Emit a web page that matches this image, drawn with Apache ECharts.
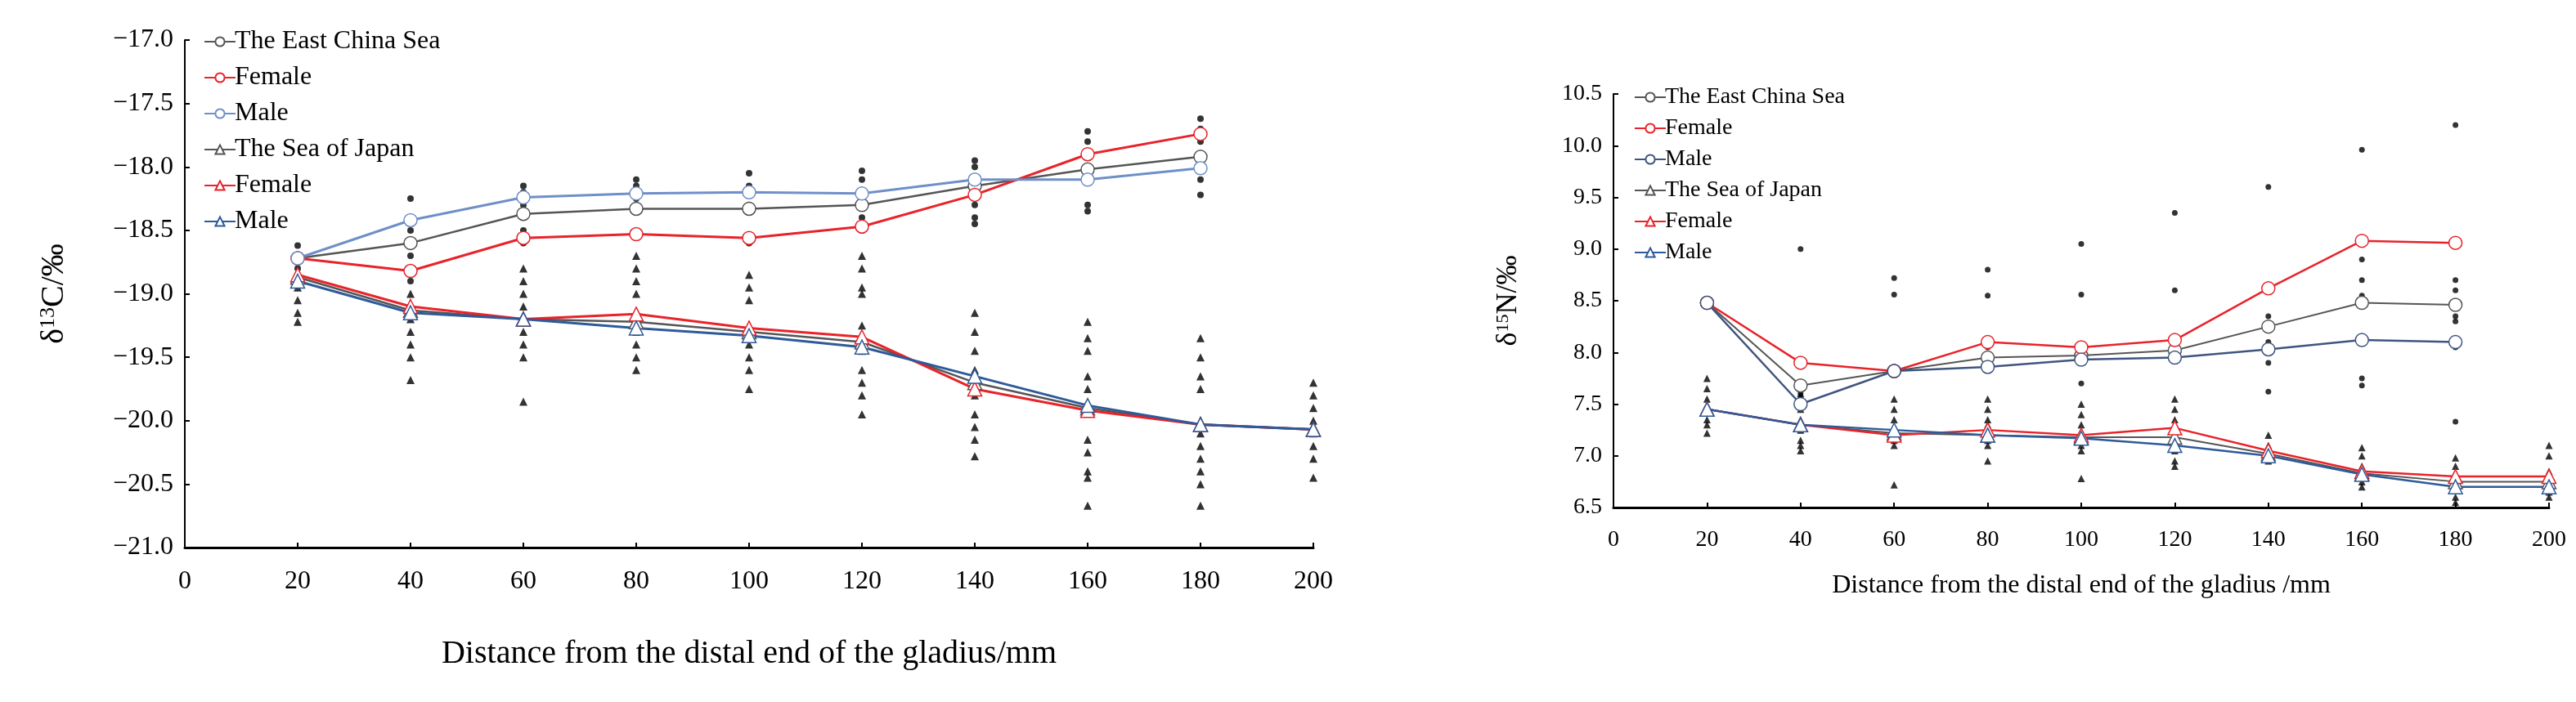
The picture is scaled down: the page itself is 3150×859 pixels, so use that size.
<!DOCTYPE html>
<html>
<head>
<meta charset="utf-8">
<script src="https://cdn.jsdelivr.net/npm/echarts@6/dist/echarts.min.js"></script>
<style>html,body{margin:0;padding:0;background:#fff}#chart{width:3150px;height:859px}</style>
</head>
<body>
<div id="chart"></div>
<script>
var xs = [20, 40, 60, 80, 100, 120, 140, 160, 180, 200];

// delta 13C (left)
var cEcs = [-18.72, -18.6, -18.37, -18.33, -18.33, -18.3, -18.15, -18.02, -17.92];
var cEcsF = [-18.72, -18.82, -18.56, -18.53, -18.56, -18.47, -18.22, -17.9, -17.74];
var cEcsM = [-18.72, -18.42, -18.24, -18.21, -18.2, -18.21, -18.1, -18.1, -18.01];
var cSoj = [-18.87, -19.13, -19.2, -19.22, -19.3, -19.38, -19.7, -19.9, -20.03, -20.07];
var cSojF = [-18.85, -19.1, -19.2, -19.16, -19.27, -19.34, -19.75, -19.92, -20.03, -20.07];
var cSojM = [-18.9, -19.15, -19.2, -19.27, -19.33, -19.42, -19.65, -19.88, -20.03, -20.07];
var cEcsPts = [
  [-18.62, -18.7, -18.8, -18.9],
  [-18.25, -18.5, -18.6, -18.7, -18.8, -18.9],
  [-18.15, -18.2, -18.3, -18.4, -18.5, -18.6],
  [-18.1, -18.15, -18.25, -18.3, -18.35],
  [-18.05, -18.15, -18.2, -18.3, -18.35, -18.6],
  [-18.03, -18.1, -18.2, -18.3, -18.4, -18.5],
  [-17.95, -18.0, -18.1, -18.2, -18.3, -18.4, -18.45],
  [-17.72, -17.8, -17.9, -18.0, -18.1, -18.3, -18.35],
  [-17.62, -17.7, -17.8, -17.9, -18.0, -18.1, -18.22]
];
var cSojPts = [
  [-18.7, -18.85, -18.95, -19.05, -19.15, -19.22],
  [-19.0, -19.1, -19.2, -19.3, -19.4, -19.5, -19.68],
  [-18.8, -18.9, -19.0, -19.1, -19.2, -19.3, -19.4, -19.5, -19.85],
  [-18.7, -18.8, -18.9, -19.0, -19.2, -19.3, -19.4, -19.5, -19.6],
  [-18.85, -18.95, -19.05, -19.3, -19.4, -19.5, -19.6, -19.75],
  [-18.7, -18.8, -18.95, -19.0, -19.25, -19.45, -19.6, -19.7, -19.8, -19.95],
  [-19.15, -19.3, -19.45, -19.6, -19.8, -19.95, -20.05, -20.15, -20.28],
  [-19.22, -19.35, -19.45, -19.65, -19.75, -20.15, -20.25, -20.4, -20.45, -20.67],
  [-19.35, -19.5, -19.65, -19.75, -20.1, -20.2, -20.3, -20.4, -20.5, -20.67],
  [-19.7, -19.8, -19.9, -20.0, -20.1, -20.2, -20.3, -20.45]
];

// delta 15N (right)
var nEcs = [8.48, 7.68, 7.82, 7.95, 7.97, 8.02, 8.25, 8.48, 8.46];
var nEcsF = [8.48, 7.9, 7.82, 8.1, 8.05, 8.12, 8.62, 9.08, 9.06];
var nEcsM = [8.48, 7.5, 7.82, 7.86, 7.93, 7.95, 8.03, 8.12, 8.1];
var nSoj = [7.45, 7.3, 7.22, 7.2, 7.18, 7.18, 7.02, 6.83, 6.75, 6.75];
var nSojF = [7.45, 7.3, 7.2, 7.25, 7.2, 7.27, 7.05, 6.85, 6.8, 6.8];
var nSojM = [7.45, 7.3, 7.25, 7.2, 7.17, 7.1, 7.0, 6.82, 6.7, 6.7];
var nEcsPts = [
  [8.48, 8.5],
  [9.0, 7.92, 7.6, 7.55],
  [8.72, 8.56, 7.85, 7.8],
  [8.8, 8.55, 8.05, 7.95, 7.9],
  [9.05, 8.56, 8.0, 7.95, 7.7],
  [9.35, 8.6, 8.1, 8.0],
  [9.6, 8.35, 8.1, 8.0, 7.9, 7.62],
  [9.96, 8.9, 8.7, 8.55, 8.15, 7.75, 7.68],
  [10.2, 8.7, 8.6, 8.35, 8.3, 8.05, 7.33]
];
var nSojPts = [
  [7.75, 7.65, 7.55, 7.45, 7.35, 7.3, 7.22],
  [7.6, 7.45, 7.35, 7.25, 7.15, 7.1, 7.05],
  [7.55, 7.45, 7.35, 7.25, 7.15, 7.1, 6.72],
  [7.55, 7.45, 7.35, 7.3, 7.25, 7.15, 7.1, 6.95],
  [7.5, 7.4, 7.3, 7.2, 7.1, 7.05, 6.78],
  [7.55, 7.45, 7.35, 7.25, 7.15, 7.05, 6.95, 6.9],
  [7.2, 7.1, 7.05, 7.0, 6.95],
  [7.08, 7.0, 6.9, 6.8, 6.75, 6.7],
  [6.98, 6.9, 6.8, 6.7, 6.6, 6.55],
  [7.1, 7.0, 6.85, 6.75, 6.7, 6.65, 6.6]
];

var FONT = 'Liberation Serif';
var chart = echarts.init(document.getElementById('chart'));

function pairs(vals) {
  return vals.map(function (v, i) { return [xs[i], v]; });
}
function pts(groups) {
  var out = [];
  groups.forEach(function (g, i) { g.forEach(function (v) { out.push([xs[i], v]); }); });
  return out;
}
function line(name, vals, color, symbol, idx, w) {
  return {
    name: name, type: 'line', xAxisIndex: idx, yAxisIndex: idx, data: pairs(vals),
    symbol: symbol, symbolSize: symbol === 'circle' ? 16 : 17,
    lineStyle: { color: color, width: w }, itemStyle: { color: '#fff', borderColor: color, borderWidth: 1.5 },
    z: 3
  };
}
function dots(groups, symbol, size, idx) {
  return {
    type: 'scatter', xAxisIndex: idx, yAxisIndex: idx, data: pts(groups),
    symbol: symbol, symbolSize: size, itemStyle: { color: '#000' }, z: 2, silent: true
  };
}

var L = ['The East China Sea', 'Female', 'Male', 'The Sea of Japan', 'Female\u200b', 'Male\u200b'];
var R = ['The East China Sea\u200c', 'Female\u200c', 'Male\u200c', 'The Sea of Japan\u200c', 'Female\u200b\u200c', 'Male\u200b\u200c'];

function xAxis(idx, size) {
  return {
    type: 'value', gridIndex: idx, min: 0, max: 200, interval: 20,
    axisLine: { lineStyle: { color: '#000', width: 3 } },
    axisTick: { show: true, inside: true, length: 6, lineStyle: { color: '#000', width: 2 } },
    axisLabel: { color: '#000', fontFamily: FONT, fontSize: size, margin: 26 },
    splitLine: { show: false },
    name: idx === 0 ? 'Distance from the distal end of the gladius/mm' : 'Distance from the distal end of the gladius /mm',
    nameLocation: 'middle', nameGap: idx === 0 ? 110 : 80,
    nameTextStyle: { color: '#000', fontFamily: FONT, fontSize: idx === 0 ? 40 : 32 }
  };
}
function yAxis(idx, min, max, name, size, gap) {
  return {
    type: 'value', gridIndex: idx, min: min, max: max, interval: 0.5,
    axisLine: { show: true, lineStyle: { color: '#000', width: 2 } },
    axisTick: { show: true, inside: true, length: 6, lineStyle: { color: '#000', width: 2 } },
    axisLabel: { color: '#000', fontFamily: FONT, fontSize: size, margin: 14,
      formatter: function (v) { return v.toFixed(1).replace('-', '\u2212'); } },
    splitLine: { show: false },
    name: name, nameLocation: 'middle', nameGap: gap, nameRotate: 90,
    nameTextStyle: { color: '#000', fontFamily: FONT, fontSize: size + 8, rich: { sup: { fontSize: size - 6, verticalAlign: 'top', fontFamily: FONT, color: '#000' } } }
  };
}
function legend(data, left, top, size, gap) {
  return {
    data: data, orient: 'vertical', left: left, top: top, itemGap: gap, itemWidth: 38, itemHeight: 14,
    textStyle: { color: '#000', fontFamily: FONT, fontSize: size, padding: [0, 0, 0, -6] },
    formatter: function (n) { return n.replace(/[\u200b\u200c]/g, ''); }
  };
}

chart.setOption({
  animation: false,
  backgroundColor: '#fff',
  grid: [
    { left: 226, right: 3150 - 1606, top: 49, bottom: 859 - 670 },
    { left: 1973, right: 3150 - 3117, top: 115, bottom: 859 - 621 }
  ],
  legend: [legend(L, 244, 30, 32, 12), legend(R, 1993, 100, 28, 10)],
  xAxis: [xAxis(0, 32), xAxis(1, 28)],
  yAxis: [
    yAxis(0, -21, -17, '\u03b4{sup|13}C/\u2030', 32, 140),
    yAxis(1, 6.5, 10.5, '\u03b4{sup|15}N/\u2030', 28, 110)
  ],
  series: [
    dots(cEcsPts, 'circle', 8, 0),
    dots(cSojPts, 'triangle', 10, 0),
    line(L[0], cEcs, '#555', 'circle', 0, 2.5),
    line(L[1], cEcsF, '#e8232a', 'circle', 0, 3),
    line(L[2], cEcsM, '#6f8fc8', 'circle', 0, 3),
    line(L[3], cSoj, '#555', 'triangle', 0, 2.5),
    line(L[4], cSojF, '#e8232a', 'triangle', 0, 3),
    line(L[5], cSojM, '#2e5a9a', 'triangle', 0, 3),
    dots(nEcsPts, 'circle', 7, 1),
    dots(nSojPts, 'triangle', 9, 1),
    line(R[0], nEcs, '#555', 'circle', 1, 2),
    line(R[1], nEcsF, '#e8232a', 'circle', 1, 2.5),
    line(R[2], nEcsM, '#3f5580', 'circle', 1, 2.5),
    line(R[3], nSoj, '#555', 'triangle', 1, 2),
    line(R[4], nSojF, '#e8232a', 'triangle', 1, 2.5),
    line(R[5], nSojM, '#2e5a9a', 'triangle', 1, 2.5)
  ]
});
</script>
</body>
</html>
